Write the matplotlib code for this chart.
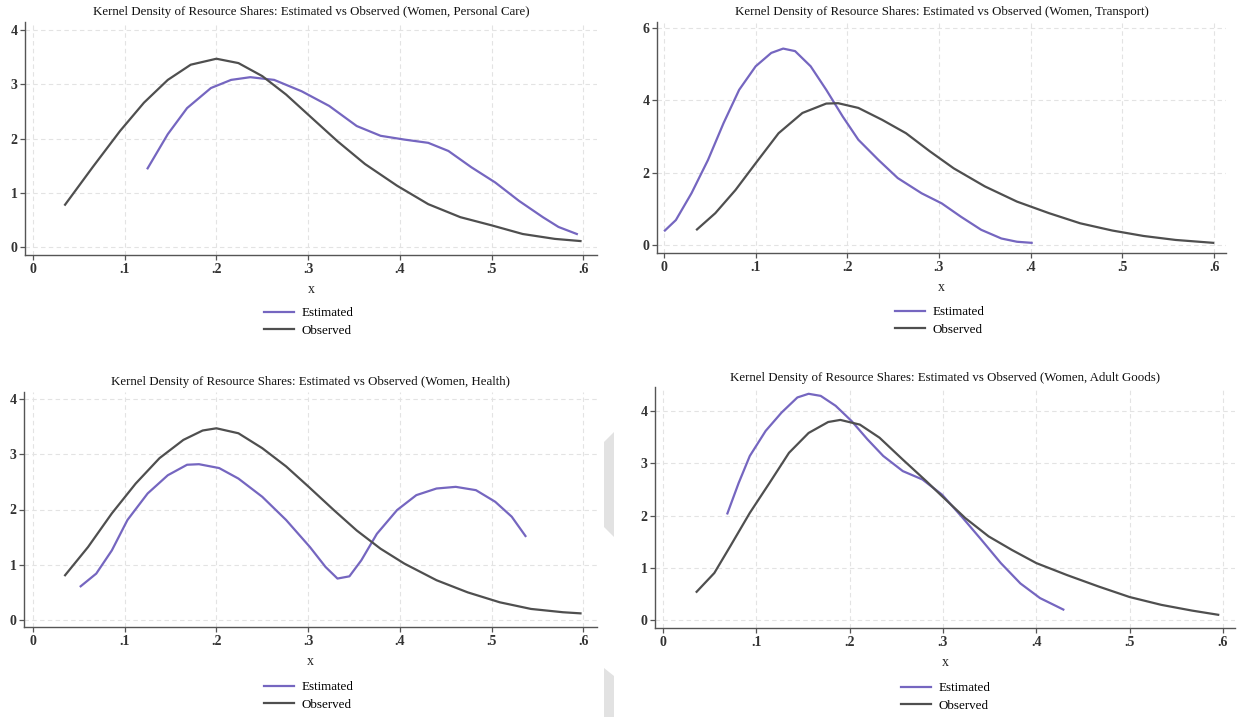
import matplotlib
matplotlib.use("Agg")
import matplotlib.pyplot as plt
from matplotlib.patches import Polygon

plt.rcParams['font.family'] = ['Liberation Serif', 'DejaVu Serif']

# ---------------- data ----------------
titles = [
    "Kernel Density of Resource Shares: Estimated vs Observed (Women, Personal Care)",
    "Kernel Density of Resource Shares: Estimated vs Observed (Women, Transport)",
    "Kernel Density of Resource Shares: Estimated vs Observed (Women, Health)",
    "Kernel Density of Resource Shares: Estimated vs Observed (Women, Adult Goods)",
]
x_ticks = [0, 0.1, 0.2, 0.3, 0.4, 0.5, 0.6]
x_tick_labels = ["0", ".1", ".2", ".3", ".4", ".5", ".6"]
y_ticks_a = [0, 1, 2, 3, 4]
y_ticks_b = [0, 2, 4, 6]

# Personal care
pc_est_x = [0.125, 0.147, 0.168, 0.194, 0.216, 0.237, 0.263, 0.293, 0.323, 0.353, 0.379,
            0.405, 0.431, 0.453, 0.478, 0.504, 0.530, 0.556, 0.573, 0.593]
pc_est_y = [1.45, 2.08, 2.56, 2.93, 3.08, 3.13, 3.08, 2.87, 2.60, 2.23, 2.05,
            1.98, 1.92, 1.77, 1.47, 1.19, 0.85, 0.55, 0.37, 0.24]
pc_obs_x = [0.035, 0.065, 0.095, 0.121, 0.147, 0.172, 0.200, 0.224, 0.250, 0.276, 0.302,
            0.332, 0.362, 0.397, 0.431, 0.466, 0.500, 0.534, 0.569, 0.597]
pc_obs_y = [0.78, 1.47, 2.14, 2.66, 3.08, 3.36, 3.47, 3.39, 3.15, 2.81, 2.41,
            1.95, 1.53, 1.13, 0.79, 0.55, 0.40, 0.24, 0.15, 0.11]

# Transport
tr_est_x = [0.001, 0.013, 0.030, 0.048, 0.065, 0.082, 0.100, 0.117, 0.130, 0.143, 0.160,
            0.177, 0.195, 0.212, 0.234, 0.255, 0.281, 0.303, 0.324, 0.346, 0.368, 0.385, 0.401]
tr_est_y = [0.40, 0.69, 1.43, 2.35, 3.37, 4.29, 4.94, 5.31, 5.43, 5.36, 4.94,
            4.29, 3.55, 2.91, 2.35, 1.85, 1.43, 1.15, 0.78, 0.42, 0.18, 0.09, 0.06]
tr_obs_x = [0.036, 0.056, 0.078, 0.100, 0.125, 0.151, 0.177, 0.190, 0.212, 0.238, 0.264,
            0.290, 0.316, 0.350, 0.385, 0.420, 0.454, 0.489, 0.523, 0.558, 0.599]
tr_obs_y = [0.43, 0.88, 1.52, 2.26, 3.09, 3.65, 3.91, 3.92, 3.79, 3.46, 3.09,
            2.59, 2.12, 1.62, 1.20, 0.88, 0.60, 0.40, 0.25, 0.14, 0.06]

# Health
he_est_x = [0.052, 0.069, 0.086, 0.103, 0.125, 0.147, 0.168, 0.181, 0.203, 0.224, 0.250,
            0.276, 0.302, 0.319, 0.332, 0.345, 0.358, 0.375, 0.397, 0.418, 0.440, 0.461,
            0.483, 0.504, 0.522, 0.537]
he_est_y = [0.61, 0.84, 1.26, 1.81, 2.29, 2.62, 2.81, 2.82, 2.75, 2.56, 2.23,
            1.81, 1.32, 0.96, 0.75, 0.79, 1.08, 1.56, 1.99, 2.26, 2.38, 2.41,
            2.35, 2.14, 1.87, 1.52]
he_obs_x = [0.035, 0.060, 0.086, 0.112, 0.138, 0.164, 0.185, 0.200, 0.224, 0.250, 0.276,
            0.300, 0.328, 0.353, 0.379, 0.405, 0.440, 0.474, 0.509, 0.543, 0.578, 0.597]
he_obs_y = [0.81, 1.32, 1.93, 2.47, 2.93, 3.26, 3.43, 3.47, 3.38, 3.11, 2.78,
            2.42, 1.99, 1.62, 1.29, 1.02, 0.72, 0.50, 0.32, 0.20, 0.14, 0.12]

# Adult goods
ag_est_x = [0.069, 0.081, 0.093, 0.110, 0.127, 0.144, 0.156, 0.169, 0.185, 0.202, 0.219,
            0.236, 0.257, 0.278, 0.299, 0.320, 0.341, 0.362, 0.383, 0.404, 0.429]
ag_est_y = [2.04, 2.62, 3.14, 3.62, 3.97, 4.26, 4.33, 4.29, 4.10, 3.81, 3.46,
            3.14, 2.85, 2.69, 2.40, 1.98, 1.54, 1.09, 0.70, 0.42, 0.20]
ag_obs_x = [0.036, 0.055, 0.072, 0.093, 0.114, 0.135, 0.156, 0.177, 0.190, 0.211, 0.232,
            0.257, 0.282, 0.299, 0.324, 0.349, 0.374, 0.400, 0.433, 0.467, 0.500, 0.534,
            0.567, 0.595]
ag_obs_y = [0.54, 0.90, 1.41, 2.05, 2.62, 3.20, 3.58, 3.79, 3.83, 3.74, 3.49,
            3.07, 2.66, 2.37, 1.95, 1.60, 1.34, 1.09, 0.86, 0.64, 0.44, 0.29,
            0.18, 0.10]

series = [
    (pc_est_x, pc_est_y, pc_obs_x, pc_obs_y),
    (tr_est_x, tr_est_y, tr_obs_x, tr_obs_y),
    (he_est_x, he_est_y, he_obs_x, he_obs_y),
    (ag_est_x, ag_est_y, ag_obs_x, ag_obs_y),
]
labels = ["Estimated", "Observed"]

# ---------------- layout ----------------
W, H = 1238, 717
EST_COLOR = "#7566c0"
OBS_COLOR = "#4f4f4f"

# pixel boxes: (left, right, top, bottom) of spines
boxes = [(25, 597, 22, 255), (657, 1226, 22, 253), (24, 597, 392, 627), (655, 1235, 387, 628)]
xlims = [(-0.0087, 0.615), (-0.0076, 0.613), (-0.0098, 0.615), (-0.0086, 0.613)]
ylims = [(-0.147, 4.147), (-0.221, 6.165), (-0.127, 4.127), (-0.153, 4.46)]
yticks = [y_ticks_a, y_ticks_b, y_ticks_a, y_ticks_a]
legend_centers = [(309, 322), (940, 321), (309, 696), (946, 697)]
title_y = [12, 12, 382, 378]

fig = plt.figure(figsize=(W / 100, H / 100), dpi=100)

for i, (l, r, t, b) in enumerate(boxes):
    ax = fig.add_axes([l / W, 1 - b / H, (r - l) / W, (b - t) / H])
    ex, ey, ox, oy = series[i]
    h1, = ax.plot(ex, ey, color=EST_COLOR, lw=1.6, label=labels[0])
    h2, = ax.plot(ox, oy, color=OBS_COLOR, lw=1.6, label=labels[1])
    ax.set_xlim(*xlims[i])
    ax.set_ylim(*ylims[i])
    ax.set_xticks(x_ticks)
    ax.set_xticklabels(x_tick_labels, fontweight="bold", color="#333333")
    ax.set_yticks(yticks[i])
    ax.set_yticklabels([str(v) for v in yticks[i]], fontweight="bold", color="#333333")
    ax.grid(True, color="#e3e3e3", linestyle=(0, (4, 3)), lw=0.8)
    ax.set_axisbelow(True)
    for s in ["top", "right"]:
        ax.spines[s].set_visible(False)
    for s in ["left", "bottom"]:
        ax.spines[s].set_color("#555555")
        ax.spines[s].set_linewidth(1.0)
    ax.tick_params(axis="both", direction="out", length=3.5, width=0.9, color="#555555",
                   labelsize=10, pad=2)
    ax.set_xlabel("x", fontsize=10, labelpad=5, color="#222222")
    fig.text((l + r) / 2 / W, 1 - title_y[i] / H, titles[i], fontsize=9.3,
             ha="center", va="center", color="#111111")
    cx, cy = legend_centers[i]
    fig.legend(handles=[h1, h2], labels=labels, loc="center",
               bbox_to_anchor=(cx / W, 1 - cy / H), bbox_transform=fig.transFigure,
               frameon=False, fontsize=9.4, handlelength=2.3, handletextpad=0.6,
               labelspacing=0.4, borderpad=0.0)

# screenshot artefacts (light grey slivers)
art1 = [(604, 442), (614, 432), (614, 537), (604, 527)]
art2 = [(604, 668), (614, 676), (614, 717), (604, 717)]
for pts in (art1, art2):
    fig.patches.append(Polygon([(x / W, 1 - y / H) for x, y in pts], closed=True,
                               transform=fig.transFigure, facecolor="#e2e2e2",
                               edgecolor="none"))

fig.savefig("out.png", dpi=100, facecolor="white")
